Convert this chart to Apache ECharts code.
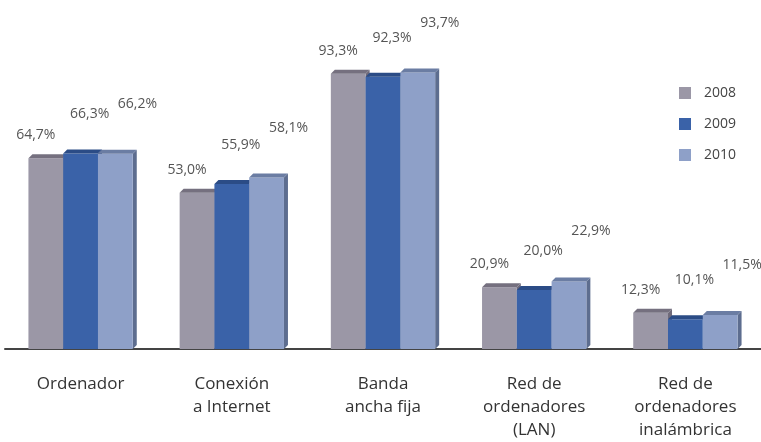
<!DOCTYPE html>
<html>
<head>
<meta charset="utf-8">
<script src="https://cdn.jsdelivr.net/npm/echarts@6/dist/echarts.min.js"></script>
<style>
  html, body { margin: 0; padding: 0; background: #fff; }
  #chart { width: 761px; height: 442px; }
</style>
</head>
<body>
<div id="chart"></div>
<script>
// categories and values
var categories = ['Ordenador', 'Conexión\na Internet', 'Banda\nancha fija', 'Red de\nordenadores\n(LAN)', 'Red de\nordenadores\ninalámbrica']
var years = ['2008', '2009', '2010']
var values2008 = [64.7, 53.0, 93.3, 20.9, 12.3]
var values2009 = [66.3, 55.9, 92.3, 20.0, 10.1]
var values2010 = [66.2, 58.1, 93.7, 22.9, 11.5]

var frontColors = ['#9b97a6', '#3a62a8', '#8ea0c8']
var topColors = ['#75707f', '#2b4c86', '#6b7da3']
var sideColors = ['#6f6a7a', '#294880', '#5d6d8f']
// where each year's value label sits relative to its bar top
var labelDx = [-10, 9, 22]
var labelDy = [23, 39, 50]

const fmt = (v) => v.toFixed(1).replace('.', ',') + '%'

function makeRender(k){
    return function(params, api){
        var idx = api.value(0)
        var val = api.value(1)
        var base = api.coord([idx, 0])
        var top = api.coord([idx, val])
        var band = api.size([1, 0])[0]
        var barW = band * 0.69 / 3
        var x0 = base[0] - 1.5 * barW + k * barW
        var d = 4
        return {
            type: 'group',
            children: [
                {
                    type: 'polygon',
                    shape: { points: [[x0 + barW, top[1]], [x0 + barW + d, top[1] - d], [x0 + barW + d, base[1] - d], [x0 + barW, base[1]]] },
                    style: { fill: sideColors[k] }
                },
                {
                    type: 'rect',
                    shape: { x: x0, y: top[1], width: barW, height: base[1] - top[1] },
                    style: { fill: frontColors[k] }
                },
                {
                    type: 'polygon',
                    shape: { points: [[x0, top[1]], [x0 + d, top[1] - d], [x0 + barW + d, top[1] - d], [x0 + barW, top[1]]] },
                    style: { fill: topColors[k] }
                },
                {
                    type: 'text',
                    style: {
                        x: x0 + barW / 2 + labelDx[k],
                        y: top[1] - labelDy[k],
                        text: fmt(val),
                        align: 'center',
                        verticalAlign: 'middle',
                        fill: '#555',
                        font: '14px "Open Sans"'
                    }
                }
            ]
        }
    }
}

function seriesFor(k, vals){
    return {
        name: years[k],
        type: 'custom',
        renderItem: makeRender(k),
        itemStyle: { color: frontColors[k] },
        encode: { x: 0, y: 1 },
        data: vals.map((v, i) => [i, v]),
        z: 2 + k
    }
}

var myChart = echarts.init(document.getElementById('chart'))
var option = {
    animation: false,
    textStyle: { fontFamily: 'Open Sans' },
    grid: { left: 5, right: 0, top: 54, bottom: 93 },
    legend: {
        orient: 'vertical',
        left: 674,
        top: 81,
        icon: 'rect',
        itemWidth: 12,
        itemHeight: 12,
        itemGap: 17,
        textStyle: { color: '#444', fontSize: 14, padding: [0, 0, 0, 8] },
        data: years
    },
    xAxis: {
        type: 'category',
        data: categories,
        axisLine: { lineStyle: { color: '#444', width: 2 } },
        axisTick: { show: false },
        axisLabel: { color: '#333', fontSize: 17, margin: 24, lineHeight: 23, interval: 0 }
    },
    yAxis: {
        type: 'value',
        min: 0,
        max: 100,
        show: false
    },
    series: [
        seriesFor(0, values2008),
        seriesFor(1, values2009),
        seriesFor(2, values2010)
    ]
}
myChart.setOption(option)
</script>
</body>
</html>
